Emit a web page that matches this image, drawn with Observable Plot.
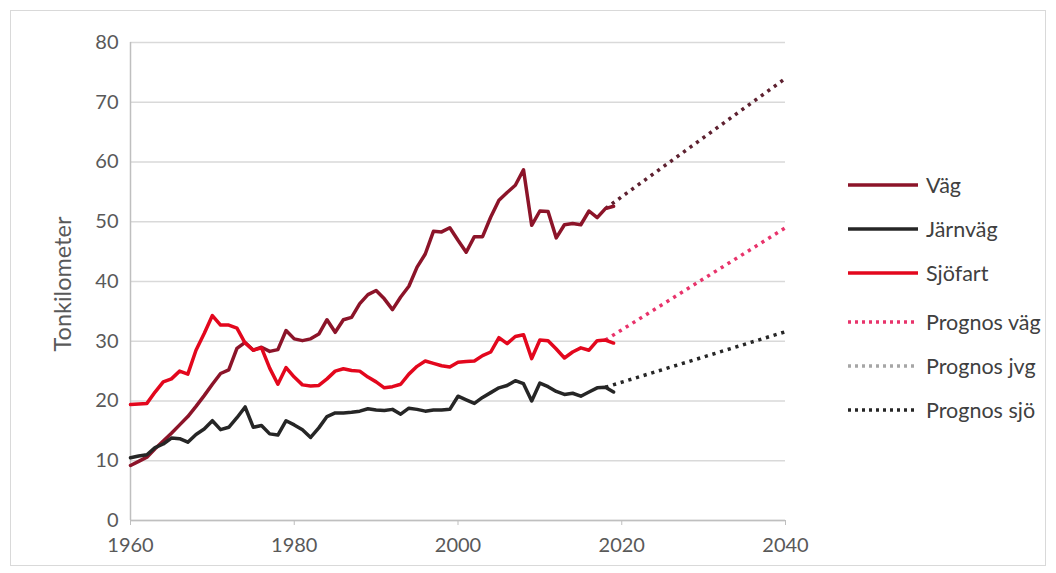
<!DOCTYPE html>
<html>
<head>
<meta charset="utf-8">
<script src="https://cdn.jsdelivr.net/npm/d3@7"></script>
<script src="https://cdn.jsdelivr.net/npm/@observablehq/plot@0.6"></script>
<style>
  html, body { margin: 0; padding: 0; background: #fff; }
  #wrap { position: relative; width: 1056px; height: 573px; overflow: hidden; font-family: Lato, "Open Sans", sans-serif; }
  #frame { position: absolute; left: 10px; top: 10px; width: 1034px; height: 554px; border: 1px solid #d9d9d9; pointer-events: none; }
  #legend { position: absolute; left: 848px; top: 0; }
  #ylabel { position: absolute; left: 62px; top: 284px; transform: translate(-50%, -50%) rotate(-90deg); white-space: nowrap; font-size: 23.5px; color: #595959; }
  .item { position: absolute; left: 0; display: flex; align-items: center; white-space: nowrap; color: #404040; font-size: 21.5px; }
  .item svg { margin-right: 8px; }
</style>
</head>
<body>
<div id="wrap">
  <div id="chart"></div>
  <div id="ylabel">Tonkilometer</div>
  <div id="legend"></div>
  <div id="frame"></div>
</div>
<script>
const years = d3.range(1960, 2020);
const vag = [9.2, 9.9, 10.6, 12.0, 13.3, 14.6, 16.0, 17.4, 19.1, 20.9,
  22.8, 24.6, 25.2, 28.8, 29.8, 28.5, 29.0, 28.3, 28.6, 31.8,
  30.4, 30.1, 30.4, 31.2, 33.6, 31.5, 33.6, 34.0, 36.3, 37.8,
  38.5, 37.1, 35.3, 37.4, 39.2, 42.4, 44.6, 48.4, 48.3, 49.0,
  46.9, 44.9, 47.5, 47.5, 50.8, 53.6, 54.9, 56.1, 58.7, 49.4,
  51.8, 51.7, 47.3, 49.5, 49.7, 49.5, 51.8, 50.7, 52.2, 52.6];
const jarnvag = [10.5, 10.8, 11.0, 12.2, 12.8, 13.8, 13.7, 13.1, 14.4, 15.3,
  16.7, 15.2, 15.6, 17.2, 19.0, 15.6, 15.9, 14.5, 14.3, 16.7,
  16.0, 15.2, 13.9, 15.5, 17.4, 18.0, 18.0, 18.1, 18.3, 18.7,
  18.5, 18.4, 18.6, 17.8, 18.8, 18.6, 18.3, 18.5, 18.5, 18.6,
  20.8, 20.2, 19.6, 20.6, 21.4, 22.2, 22.6, 23.4, 22.9, 20.0,
  23.0, 22.4, 21.6, 21.1, 21.3, 20.8, 21.5, 22.2, 22.3, 21.5];
const sjofart = [19.4, 19.5, 19.6, 21.5, 23.2, 23.7, 25.0, 24.5, 28.5, 31.3,
  34.3, 32.7, 32.7, 32.2, 29.7, 28.5, 28.9, 25.5, 22.8, 25.6,
  24.0, 22.7, 22.5, 22.6, 23.7, 25.0, 25.4, 25.1, 25.0, 24.0,
  23.2, 22.2, 22.4, 22.8, 24.5, 25.8, 26.7, 26.3, 25.9, 25.7,
  26.5, 26.6, 26.7, 27.6, 28.2, 30.6, 29.6, 30.8, 31.1, 27.1,
  30.2, 30.1, 28.7, 27.2, 28.2, 28.9, 28.5, 30.1, 30.2, 29.7];
const prognosYears = [2018, 2040];
const prognosVag = [52.2, 74.0];
const prognosSjo = [30.2, 49.0];
const prognosJvg = [22.3, 31.6];
const xTicks = [1960, 1980, 2000, 2020, 2040];
const yTicks = [0, 10, 20, 30, 40, 50, 60, 70, 80];

const series = [
  {name: "Väg", color: "#8c1429", ys: vag},
  {name: "Järnväg", color: "#262626", ys: jarnvag},
  {name: "Sjöfart", color: "#e3071d", ys: sjofart}
];
const prognoses = [
  {name: "Prognos väg (linje)", color: "#5e2130", ys: prognosVag},
  {name: "Prognos sjö (linje)", color: "#e8336b", ys: prognosSjo},
  {name: "Prognos jvg (linje)", color: "#262626", ys: prognosJvg}
];
const rows = series.flatMap(s => years.map((y, i) => ({series: s.name, year: y, value: s.ys[i]})));
const prows = prognoses.flatMap(s => prognosYears.map((y, i) => ({series: s.name, year: y, value: s.ys[i]})));

const colorDomain = [...series, ...prognoses].map(s => s.name);
const colorRange = [...series, ...prognoses].map(s => s.color);

const chart = Plot.plot({
  width: 1056,
  height: 573,
  marginLeft: 130,
  marginRight: 271,
  marginTop: 42,
  marginBottom: 53,
  style: {fontFamily: "Lato, 'Open Sans', sans-serif", fontSize: "20px", color: "#595959", background: "transparent"},
  x: {domain: [1960, 2040]},
  y: {domain: [0, 80]},
  color: {domain: colorDomain, range: colorRange},
  marks: [
    Plot.gridY(yTicks, {stroke: "#d9d9d9", strokeOpacity: 1, strokeWidth: 1.5}),
    Plot.ruleX([1960], {stroke: "#bfbfbf", strokeWidth: 1.5}),
    Plot.ruleY([0], {stroke: "#bfbfbf", strokeWidth: 1.5}),
    Plot.axisX(xTicks, {tickFormat: d => String(d), tickSize: 5, tickPadding: 12, stroke: "#bfbfbf", fill: "#595959", fontSize: 20, label: null}),
    Plot.axisY(yTicks, {tickSize: 0, tickPadding: 12, fill: "#595959", fontSize: 20, label: null}),
    Plot.line(prows, {x: "year", y: "value", z: "series", stroke: "series", strokeWidth: 3.5, strokeDasharray: "3.2,4.8", strokeLinecap: "butt"}),
    Plot.line(rows, {x: "year", y: "value", z: "series", stroke: "series", strokeWidth: 3.5, strokeLinejoin: "round"})
  ]
});
document.getElementById("chart").appendChild(chart);

const legendItems = [
  {label: "Väg", color: "#8c1429", dash: null},
  {label: "Järnväg", color: "#262626", dash: null},
  {label: "Sjöfart", color: "#e3071d", dash: null},
  {label: "Prognos väg", color: "#e8336b", dash: "3,4"},
  {label: "Prognos jvg", color: "#a6a6a6", dash: "3,4"},
  {label: "Prognos sjö", color: "#262626", dash: "3,4"}
];
const legendY = [185, 229, 273, 322, 366, 410];
const legend = d3.select("#legend");
legendItems.forEach((d, i) => {
  const item = legend.append("div").attr("class", "item").style("top", (legendY[i] - 14) + "px").style("height", "28px");
  const svg = item.append("svg").attr("width", 70).attr("height", 10);
  svg.append("line").attr("x1", 0).attr("x2", 70).attr("y1", 5).attr("y2", 5)
    .attr("stroke", d.color).attr("stroke-width", 3.5).attr("stroke-dasharray", d.dash);
  item.append("span").text(d.label);
});
</script>
</body>
</html>
